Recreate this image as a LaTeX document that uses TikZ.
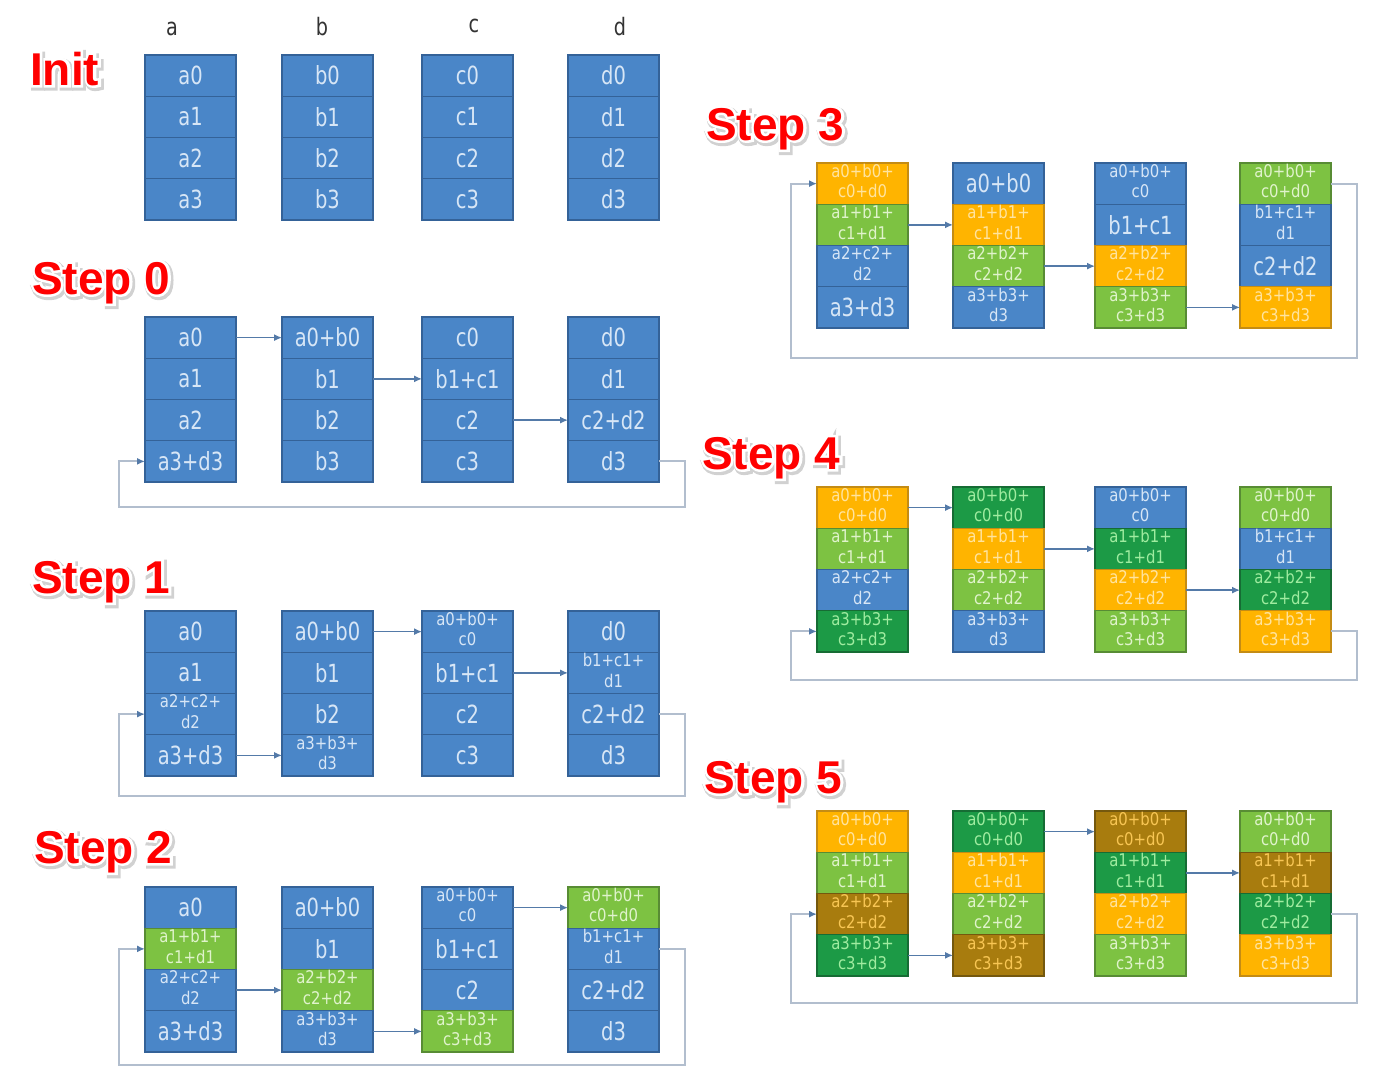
\documentclass[tikz,border=0pt]{standalone}
\usepackage{fontspec}
\usetikzlibrary{arrows.meta,calc}

\newfontfamily\cellbig[FakeStretch=0.78]{DejaVu Sans}
\newfontfamily\cellsmall[FakeStretch=0.85]{DejaVu Sans}
\newfontfamily\headfont[FakeStretch=0.8]{DejaVu Sans}
\newfontfamily\stepfont{Liberation Sans Bold}
\newfontfamily\stepedge[FakeBold=11]{Liberation Sans Bold}
\newfontfamily\stephalo[FakeBold=16]{Liberation Sans Bold}

% cell palettes: fill / text / edge
\definecolor{fillb}{RGB}{74,134,200}
\definecolor{textb}{RGB}{215,230,246}
\definecolor{edgeb}{RGB}{52,98,152}
\definecolor{fillg}{RGB}{125,194,66}
\definecolor{textg}{RGB}{224,243,204}
\definecolor{edgeg}{RGB}{88,140,52}
\definecolor{fillo}{RGB}{255,180,0}
\definecolor{texto}{RGB}{255,228,160}
\definecolor{edgeo}{RGB}{196,140,20}
\definecolor{filld}{RGB}{28,154,70}
\definecolor{textd}{RGB}{160,236,160}
\definecolor{edged}{RGB}{22,108,52}
\definecolor{fillv}{RGB}{168,124,14}
\definecolor{textv}{RGB}{248,198,84}
\definecolor{edgev}{RGB}{116,88,14}
\definecolor{arrowcol}{RGB}{84,122,168}
\definecolor{loopcol}{RGB}{178,190,206}
\definecolor{stepred}{RGB}{255,0,0}

% two-line cell text in the smaller face
\newcommand\twol[2]{{\cellsmall\fontsize{17.5}{20.5}\selectfont
  \renewcommand\arraystretch{1}%
  \begin{tabular}{@{}c@{}}#1\\#2\end{tabular}}}
% a full four-term sum of row #1
\newcommand\fsum[1]{\twol{a#1+b#1+}{c#1+d#1}}

\tikzset{
  cell/.style={minimum width=91pt, minimum height=41.25pt, inner sep=0pt,
    outer sep=0pt, line width=1.2pt, align=center, anchor=north west,
    font=\cellbig\fontsize{25}{30}\selectfont},
  arr/.style={draw=arrowcol, line width=1.4pt,
    -{Latex[length=8pt,width=7pt]}},
  loopline/.style={draw=loopcol, line width=1.8pt,
    -{Latex[length=8pt,width=7pt,color=arrowcol]}},
  steptext/.style={anchor=base west, inner sep=0pt},
  colhead/.style={font=\headfont\fontsize{24}{24}\selectfont,
    text=black!80, anchor=base, inner sep=0pt}
}

% one column of four cells: name prefix, left x, top y, list colour/text
\newcommand\blk[4]{%
  \foreach [count=\i from 0] \f/\t in {#4}{%
    \node[cell, fill=fill\f, draw=edge\f, text=text\f] (#1\i)
      at (#2,{#3+41.25*\i}) {\t};}}

% straight transfer arrow between two cells
\newcommand\hop[2]{\draw[arr] (#1.east) -- (#2.west);}

% wrap-around arrow: from cell, to cell, bottom cell of first column, drop
\newcommand\loopback[4]{%
  \draw[loopline] (#1.east) -- ++(26,0) |- ($(#3.south west)+(-26,#4)$)
    |- (#2.west);}

% red step title with white outline and grey halo
\newcommand\steplabel[3]{%
  \node[steptext, text=black!18,
    font=\stephalo\fontsize{46}{46}\selectfont] at ($(#2)+(1.5,2)$) {#3};
  \node[steptext, text=white,
    font=\stepedge\fontsize{46}{46}\selectfont] at (#2) {#3};
  \node[steptext, text=stepred,
    font=\stepfont\fontsize{46}{46}\selectfont] (#1) at (#2) {#3};}

\begin{document}
\begin{tikzpicture}[x=1pt, y=-1pt]
\fill[white] (0,0) rectangle (1380,1074);
\useasboundingbox (0,0) rectangle (1380,1074);

% ---------- column headers ----------
\node[colhead] (ha) at (172,35) {a};
\node[colhead] (hb) at (322,35) {b};
\node[colhead] (hc) at (474,32) {c};
\node[colhead] (hd) at (620,35) {d};

% ---------- Init ----------
\steplabel{lInit}{30,85}{Init}
\blk{ia}{145}{55}{b/a0, b/a1, b/a2, b/a3}
\blk{ib}{282}{55}{b/b0, b/b1, b/b2, b/b3}
\blk{ic}{422}{55}{b/c0, b/c1, b/c2, b/c3}
\blk{id}{568}{55}{b/d0, b/d1, b/d2, b/d3}

% ---------- Step 0 ----------
\steplabel{lS0}{32,294}{Step 0}
\blk{s0a}{145}{317}{b/a0, b/a1, b/a2, b/a3+d3}
\blk{s0b}{282}{317}{b/a0+b0, b/b1, b/b2, b/b3}
\blk{s0c}{422}{317}{b/c0, b/b1+c1, b/c2, b/c3}
\blk{s0d}{568}{317}{b/d0, b/d1, b/c2+d2, b/d3}
\hop{s0a0}{s0b0}
\hop{s0b1}{s0c1}
\hop{s0c2}{s0d2}
\loopback{s0d3}{s0a3}{s0a3}{25}

% ---------- Step 1 ----------
\steplabel{lS1}{32,593}{Step 1}
\blk{s1a}{145}{611}{b/a0, b/a1, b/\twol{a2+c2+}{d2}, b/a3+d3}
\blk{s1b}{282}{611}{b/a0+b0, b/b1, b/b2, b/\twol{a3+b3+}{d3}}
\blk{s1c}{422}{611}{b/\twol{a0+b0+}{c0}, b/b1+c1, b/c2, b/c3}
\blk{s1d}{568}{611}{b/d0, b/\twol{b1+c1+}{d1}, b/c2+d2, b/d3}
\hop{s1b0}{s1c0}
\hop{s1c1}{s1d1}
\hop{s1a3}{s1b3}
\loopback{s1d2}{s1a2}{s1a3}{20}

% ---------- Step 2 ----------
\steplabel{lS2}{34,863}{Step 2}
\blk{s2a}{145}{887}{b/a0, g/\fsum{1}, b/\twol{a2+c2+}{d2}, b/a3+d3}
\blk{s2b}{282}{887}{b/a0+b0, b/b1, g/\fsum{2}, b/\twol{a3+b3+}{d3}}
\blk{s2c}{422}{887}{b/\twol{a0+b0+}{c0}, b/b1+c1, b/c2, g/\fsum{3}}
\blk{s2d}{568}{887}{g/\fsum{0}, b/\twol{b1+c1+}{d1}, b/c2+d2, b/d3}
\hop{s2c0}{s2d0}
\hop{s2a2}{s2b2}
\hop{s2b3}{s2c3}
\loopback{s2d1}{s2a1}{s2a3}{13}

% ---------- Step 3 ----------
\steplabel{lS3}{706,140}{Step 3}
\blk{s3a}{817}{163}{o/\fsum{0}, g/\fsum{1}, b/\twol{a2+c2+}{d2}, b/a3+d3}
\blk{s3b}{953}{163}{b/a0+b0, o/\fsum{1}, g/\fsum{2}, b/\twol{a3+b3+}{d3}}
\blk{s3c}{1095}{163}{b/\twol{a0+b0+}{c0}, b/b1+c1, o/\fsum{2}, g/\fsum{3}}
\blk{s3d}{1240}{163}{g/\fsum{0}, b/\twol{b1+c1+}{d1}, b/c2+d2, o/\fsum{3}}
\hop{s3a1}{s3b1}
\hop{s3b2}{s3c2}
\hop{s3c3}{s3d3}
\loopback{s3d0}{s3a0}{s3a3}{30}

% ---------- Step 4 ----------
\steplabel{lS4}{702,469}{Step 4}
\blk{s4a}{817}{487}{o/\fsum{0}, g/\fsum{1}, b/\twol{a2+c2+}{d2}, d/\fsum{3}}
\blk{s4b}{953}{487}{d/\fsum{0}, o/\fsum{1}, g/\fsum{2}, b/\twol{a3+b3+}{d3}}
\blk{s4c}{1095}{487}{b/\twol{a0+b0+}{c0}, d/\fsum{1}, o/\fsum{2}, g/\fsum{3}}
\blk{s4d}{1240}{487}{g/\fsum{0}, b/\twol{b1+c1+}{d1}, d/\fsum{2}, o/\fsum{3}}
\hop{s4a0}{s4b0}
\hop{s4b1}{s4c1}
\hop{s4c2}{s4d2}
\loopback{s4d3}{s4a3}{s4a3}{28}

% ---------- Step 5 ----------
\steplabel{lS5}{704,793}{Step 5}
\blk{s5a}{817}{811}{o/\fsum{0}, g/\fsum{1}, v/\fsum{2}, d/\fsum{3}}
\blk{s5b}{953}{811}{d/\fsum{0}, o/\fsum{1}, g/\fsum{2}, v/\fsum{3}}
\blk{s5c}{1095}{811}{v/\fsum{0}, d/\fsum{1}, o/\fsum{2}, g/\fsum{3}}
\blk{s5d}{1240}{811}{g/\fsum{0}, v/\fsum{1}, d/\fsum{2}, o/\fsum{3}}
\hop{s5b0}{s5c0}
\hop{s5c1}{s5d1}
\hop{s5a3}{s5b3}
\loopback{s5d2}{s5a2}{s5a3}{27}
\end{tikzpicture}
\end{document}
